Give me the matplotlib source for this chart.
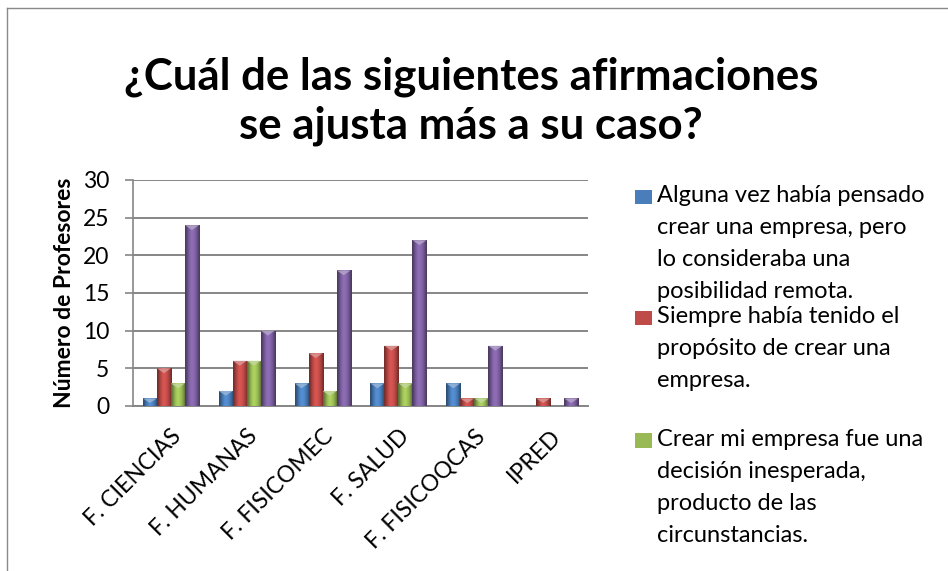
import numpy as np
import matplotlib.pyplot as plt
from matplotlib.patches import Rectangle, Polygon
from matplotlib.lines import Line2D
from matplotlib.colors import to_rgb

plt.rcParams['font.family'] = ['Lato', 'DejaVu Sans']

categories = ["F. CIENCIAS", "F. HUMANAS", "F. FISICOMEC", "F. SALUD", "F. FISICOQCAS", "IPRED"]
pensado = [1, 2, 3, 3, 3, 0]
siempre = [5, 6, 7, 8, 1, 1]
inesperada = [3, 6, 2, 3, 1, 0]
cuarta = [24, 10, 18, 22, 8, 1]

series = [pensado, siempre, inesperada, cuarta]
colors = ["#4A7EBB", "#BE4B48", "#98B954", "#7D60A0"]
labels = [
    "Alguna vez había pensado\ncrear una empresa, pero\nlo consideraba una\nposibilidad remota.",
    "Siempre había tenido el\npropósito de crear una\nempresa.",
    "Crear mi empresa fue una\ndecisión inesperada,\nproducto de las\ncircunstancias.",
]

fig = plt.figure(figsize=(9.48, 5.71), dpi=100)
ax = fig.add_axes([0.1403, 0.289, 0.48, 0.3958])

x = np.arange(len(categories))
w = 0.185
prof = np.array([0.6, 0.78, 0.95, 1.08, 1.15, 1.12, 1.05, 0.95, 0.8, 0.6])

for i, (vals, c) in enumerate(zip(series, colors)):
    base = np.array(to_rgb(c))
    grad = np.clip(base[None, :] * prof[:, None], 0, 1)[None, :, :]
    light = np.clip(base + (1 - base) * 0.45, 0, 1)
    for xi, v in zip(x, vals):
        if v <= 0:
            continue
        x0 = xi - 2 * w + i * w
        rect = Rectangle((x0, 0), w, v, facecolor=c, edgecolor='none', zorder=3)
        ax.add_patch(rect)
        im = ax.imshow(grad, extent=[x0, x0 + w, 0, v], aspect='auto',
                       interpolation='bicubic', zorder=3.1)
        im.set_clip_path(rect)
        d = min(0.65, v * 0.6)
        ax.add_patch(Polygon([(x0, v), (x0 + w, v), (x0 + w / 2, v - d)],
                             closed=True, facecolor=light, edgecolor='none',
                             alpha=0.8, zorder=3.2))

ax.set_xlim(-0.5, len(categories) - 0.5)
ax.set_ylim(0, 30)
ax.set_yticks(range(0, 31, 5))
ax.set_xticks(x)
ax.set_xticklabels(categories, rotation=45, ha='right', rotation_mode='anchor',
                   fontsize=16.5)
ax.tick_params(axis='x', length=0, pad=14)
ax.tick_params(axis='y', length=6, width=1.2, color='#868686', labelsize=16.5, pad=11)
ax.yaxis.grid(True, color='#868686', linewidth=1.4, zorder=0)
ax.set_axisbelow(True)
for s in ['top', 'right']:
    ax.spines[s].set_visible(False)
ax.spines['left'].set_color('#868686')
ax.spines['bottom'].set_color('#868686')
ax.spines['left'].set_linewidth(1.2)
ax.spines['bottom'].set_linewidth(1.4)
ax.set_ylabel("Número de Profesores", fontsize=16.5, fontweight='bold', labelpad=6)

fig.text(0.497, 0.823, "¿Cuál de las siguientes afirmaciones\nse ajusta más a su caso?",
         ha='center', va='center', fontsize=31.5, fontweight='bold', linespacing=1.25)

# legend: text top / square centre per entry
tops = [0.676, 0.464, 0.249]
centres = [0.655, 0.443, 0.228]
for lab, c, ty, cy in zip(labels, colors, tops, centres):
    fig.add_artist(Rectangle((0.670, cy - 0.013), 0.018, 0.026, transform=fig.transFigure,
                             facecolor=c, edgecolor='none'))
    fig.text(0.693, ty, lab, ha='left', va='top', fontsize=17, linespacing=1.65)

fig.add_artist(Line2D([0.0074, 0.0074], [0, 0.986], transform=fig.transFigure,
                      color='#898989', linewidth=1))
fig.add_artist(Line2D([0.0074, 1], [0.986, 0.986], transform=fig.transFigure,
                      color='#898989', linewidth=1))

fig.savefig("out.png", dpi=100)
